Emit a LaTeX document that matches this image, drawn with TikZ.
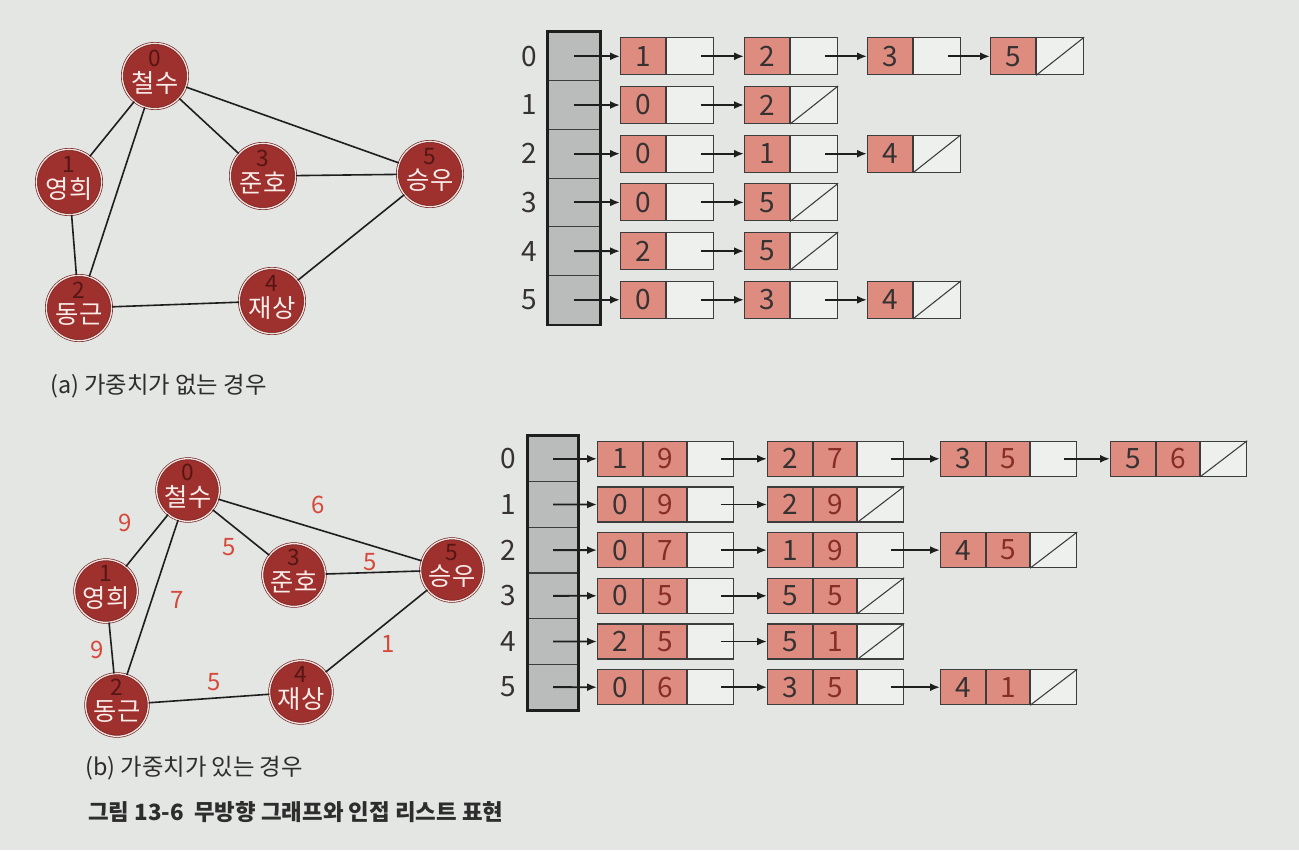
\documentclass[tikz,border=0pt]{standalone}
\usepackage{fontspec}
\setmainfont{Noto Sans CJK KR}
\usetikzlibrary{arrows.meta}
\definecolor{bgc}{RGB}{228,230,227}
\definecolor{nodered}{RGB}{158,48,46}
\definecolor{ringc}{RGB}{245,225,222}
\definecolor{namec}{RGB}{250,236,232}
\definecolor{numc}{RGB}{85,22,20}
\definecolor{edgec}{RGB}{30,30,30}
\definecolor{weightc}{RGB}{214,72,58}
\definecolor{cellred}{RGB}{222,140,128}
\definecolor{cellwhite}{RGB}{238,240,237}
\definecolor{boxc}{RGB}{60,60,60}
\definecolor{digc}{RGB}{55,50,50}
\definecolor{wdigc}{RGB}{135,45,40}
\definecolor{arrgray}{RGB}{186,188,188}
\definecolor{capc}{RGB}{45,45,45}
\tikzset{
  gnodeA/.style={circle, fill=nodered, draw=nodered!70!black, double=ringc, double distance=1pt, line width=0.5pt, minimum size=49pt, inner sep=0pt},
  gnodeB/.style={gnodeA, minimum size=47pt},
  gnum/.style={text=numc, font=\fontsize{17}{17}\selectfont, inner sep=0pt},
  gname/.style={text=namec, font=\fontsize{19}{19}\selectfont, inner sep=0pt},
  gedge/.style={line width=1.2pt, draw=edgec},
  wlab/.style={text=weightc, font=\fontsize{18}{18}\selectfont, inner sep=0pt},
  rcellA/.style={draw=boxc, fill=cellred, line width=0.8pt, minimum height=27.75pt, minimum width=33.75pt, inner sep=0pt, anchor=west, font=\fontsize{21}{21}\selectfont, text=digc},
  wcellA/.style={draw=boxc, fill=cellwhite, line width=0.8pt, minimum height=27.75pt, minimum width=35.25pt, inner sep=0pt, anchor=west},
  rcellB/.style={draw=boxc, fill=cellred, line width=0.8pt, minimum height=26.25pt, minimum width=33.75pt, inner sep=0pt, anchor=west, font=\fontsize{21}{21}\selectfont, text=digc},
  rcellW/.style={rcellB, minimum width=32.25pt, text=wdigc},
  wcellB/.style={draw=boxc, fill=cellwhite, line width=0.8pt, minimum height=26.25pt, minimum width=34.5pt, inner sep=0pt, anchor=west},
  diag/.style={draw=boxc, line width=0.8pt},
  ptr/.style={-{Latex[length=7.5pt,width=6pt]}, line width=1.4pt, draw=edgec},
  acellA/.style={draw=boxc, fill=arrgray, line width=0.8pt, minimum width=39pt, minimum height=36.5pt, inner sep=0pt},
  acellB/.style={draw=boxc, fill=arrgray, line width=0.8pt, minimum width=37.5pt, minimum height=34.25pt, inner sep=0pt},
  aframe/.style={draw=edgec, line width=1.6pt},
  idx/.style={text=digc, font=\fontsize{21}{21}\selectfont, inner sep=0pt},
  capstyle/.style={text=capc, font=\fontsize{17.5}{17.5}\selectfont, inner sep=0pt, anchor=west},
  figcapstyle/.style={text=capc, font=\bfseries\fontsize{16.8}{16.8}\selectfont, inner sep=0pt, anchor=west}
}
% graph vertex: name, x, y, number, label, style
\newcommand\gv[6]{%
  \node[#6] (#1) at (#2,#3) {};
  \node[gnum] (#1n) at ([yshift=13pt]#1.center) {#4};
  \node[gname] (#1t) at ([yshift=-5pt]#1.center) {#5};
}
% list node (a): name, x, y, digit
\newcommand\lnA[4]{%
  \node[rcellA] (#1r) at (#2,#3) {#4};
  \node[wcellA] (#1w) at (#1r.east) {};
}
% list node (b): name, x, y, vertex, weight
\newcommand\lnB[5]{%
  \node[rcellB] (#1r) at (#2,#3) {#4};
  \node[rcellW] (#1s) at (#1r.east) {#5};
  \node[wcellB] (#1w) at (#1s.east) {};
}
\newcommand\nullmark[1]{\draw[diag] (#1w.south west) -- (#1w.north east);}
\newcommand\lnkA[2]{\draw[ptr] ([xshift=8.5pt]#1w.center) -- (#2r.west);}
\newcommand\lnkB[2]{\draw[ptr] ([xshift=8pt]#1w.center) -- (#2r.west);}
\begin{document}
\begin{tikzpicture}[x=0.75pt,y=-0.75pt]
\useasboundingbox (0,0) rectangle (1299,850);
\fill[bgc] (0,0) rectangle (1299,850);

% ---------- graph (a) ----------
\gv{a0}{155}{76}{0}{철수}{gnodeA}
\gv{a1}{69}{182}{1}{영희}{gnodeA}
\gv{a2}{79}{308}{2}{동근}{gnodeA}
\gv{a3}{263}{176}{3}{준호}{gnodeA}
\gv{a4}{272}{301}{4}{재상}{gnodeA}
\gv{a5}{430}{174}{5}{승우}{gnodeA}
\draw[gedge] (a0) -- (a1);
\draw[gedge] (a0) -- (a2);
\draw[gedge] (a0) -- (a3);
\draw[gedge] (a0) -- (a5);
\draw[gedge] (a1) -- (a2);
\draw[gedge] (a2) -- (a4);
\draw[gedge] (a3) -- (a5);
\draw[gedge] (a4) -- (a5);
\node[capstyle] (capa) at (50,386) {(a) 가중치가 없는 경우};

% ---------- list (a) ----------
\foreach \i in {0,...,5} {
  \node[acellA] (A\i) at (574,{56.3+48.7*\i}) {};
  \node[idx] (IA\i) at (529,{56.3+48.7*\i}) {\i};
}
\draw[aframe] (A0.north west) rectangle (A5.south east);
% row 0
\lnA{p00}{620}{56.3}{1}\lnA{p01}{744}{56.3}{2}\lnA{p02}{867}{56.3}{3}\lnA{p03}{990}{56.3}{5}\nullmark{p03}
\draw[ptr] (A0.center) -- (p00r.west);\lnkA{p00}{p01}\lnkA{p01}{p02}\lnkA{p02}{p03}
% row 1
\lnA{p10}{620}{105}{0}\lnA{p11}{744}{105}{2}\nullmark{p11}
\draw[ptr] (A1.center) -- (p10r.west);\lnkA{p10}{p11}
% row 2
\lnA{p20}{620}{153.7}{0}\lnA{p21}{744}{153.7}{1}\lnA{p22}{867}{153.7}{4}\nullmark{p22}
\draw[ptr] (A2.center) -- (p20r.west);\lnkA{p20}{p21}\lnkA{p21}{p22}
% row 3
\lnA{p30}{620}{202.4}{0}\lnA{p31}{744}{202.4}{5}\nullmark{p31}
\draw[ptr] (A3.center) -- (p30r.west);\lnkA{p30}{p31}
% row 4
\lnA{p40}{620}{251.1}{2}\lnA{p41}{744}{251.1}{5}\nullmark{p41}
\draw[ptr] (A4.center) -- (p40r.west);\lnkA{p40}{p41}
% row 5
\lnA{p50}{620}{299.8}{0}\lnA{p51}{744}{299.8}{3}\lnA{p52}{867}{299.8}{4}\nullmark{p52}
\draw[ptr] (A5.center) -- (p50r.west);\lnkA{p50}{p51}\lnkA{p51}{p52}

% ---------- graph (b) ----------
\gv{b0}{188}{490}{0}{철수}{gnodeB}
\gv{b1}{106}{591}{1}{영희}{gnodeB}
\gv{b2}{117}{705}{2}{동근}{gnodeB}
\gv{b3}{294}{575}{3}{준호}{gnodeB}
\gv{b4}{301}{692}{4}{재상}{gnodeB}
\gv{b5}{452}{570}{5}{승우}{gnodeB}
\draw[gedge] (b0) -- (b1);
\draw[gedge] (b0) -- (b2);
\draw[gedge] (b0) -- (b3);
\draw[gedge] (b0) -- (b5);
\draw[gedge] (b1) -- (b2);
\draw[gedge] (b2) -- (b4);
\draw[gedge] (b3) -- (b5);
\draw[gedge] (b4) -- (b5);
\node[wlab] (w01) at (125,523) {9};
\node[wlab] (w03) at (229,547) {5};
\node[wlab] (w05) at (318,505) {6};
\node[wlab] (w02) at (177,600) {7};
\node[wlab] (w35) at (370,562) {5};
\node[wlab] (w12) at (97,650) {9};
\node[wlab] (w45) at (388,644) {1};
\node[wlab] (w24) at (214,682) {5};
\node[capstyle] (capb) at (85,768) {(b) 가중치가 있는 경우};
\node[figcapstyle] (figc) at (88,812) {그림 13-6\ \ 무방향 그래프와 인접 리스트 표현};

% ---------- list (b) ----------
\foreach \i in {0,...,5} {
  \node[acellB] (B\i) at (553,{458.8+45.67*\i}) {};
  \node[idx] (IB\i) at (508,{458.8+45.67*\i}) {\i};
}
\draw[aframe] (B0.north west) rectangle (B5.south east);
% row 0
\lnB{q00}{597}{458.8}{1}{9}\lnB{q01}{767}{458.8}{2}{7}\lnB{q02}{940}{458.8}{3}{5}\lnB{q03}{1110}{458.8}{5}{6}\nullmark{q03}
\draw[ptr] (B0.center) -- (q00r.west);\lnkB{q00}{q01}\lnkB{q01}{q02}\lnkB{q02}{q03}
% row 1
\lnB{q10}{597}{504.5}{0}{9}\lnB{q11}{767}{504.5}{2}{9}\nullmark{q11}
\draw[ptr] (B1.center) -- (q10r.west);\lnkB{q10}{q11}
% row 2
\lnB{q20}{597}{550.1}{0}{7}\lnB{q21}{767}{550.1}{1}{9}\lnB{q22}{940}{550.1}{4}{5}\nullmark{q22}
\draw[ptr] (B2.center) -- (q20r.west);\lnkB{q20}{q21}\lnkB{q21}{q22}
% row 3
\lnB{q30}{597}{595.8}{0}{5}\lnB{q31}{767}{595.8}{5}{5}\nullmark{q31}
\draw[ptr] (B3.center) -- (q30r.west);\lnkB{q30}{q31}
% row 4
\lnB{q40}{597}{641.5}{2}{5}\lnB{q41}{767}{641.5}{5}{1}\nullmark{q41}
\draw[ptr] (B4.center) -- (q40r.west);\lnkB{q40}{q41}
% row 5
\lnB{q50}{597}{687.2}{0}{6}\lnB{q51}{767}{687.2}{3}{5}\lnB{q52}{940}{687.2}{4}{1}\nullmark{q52}
\draw[ptr] (B5.center) -- (q50r.west);\lnkB{q50}{q51}\lnkB{q51}{q52}
\end{tikzpicture}
\end{document}
